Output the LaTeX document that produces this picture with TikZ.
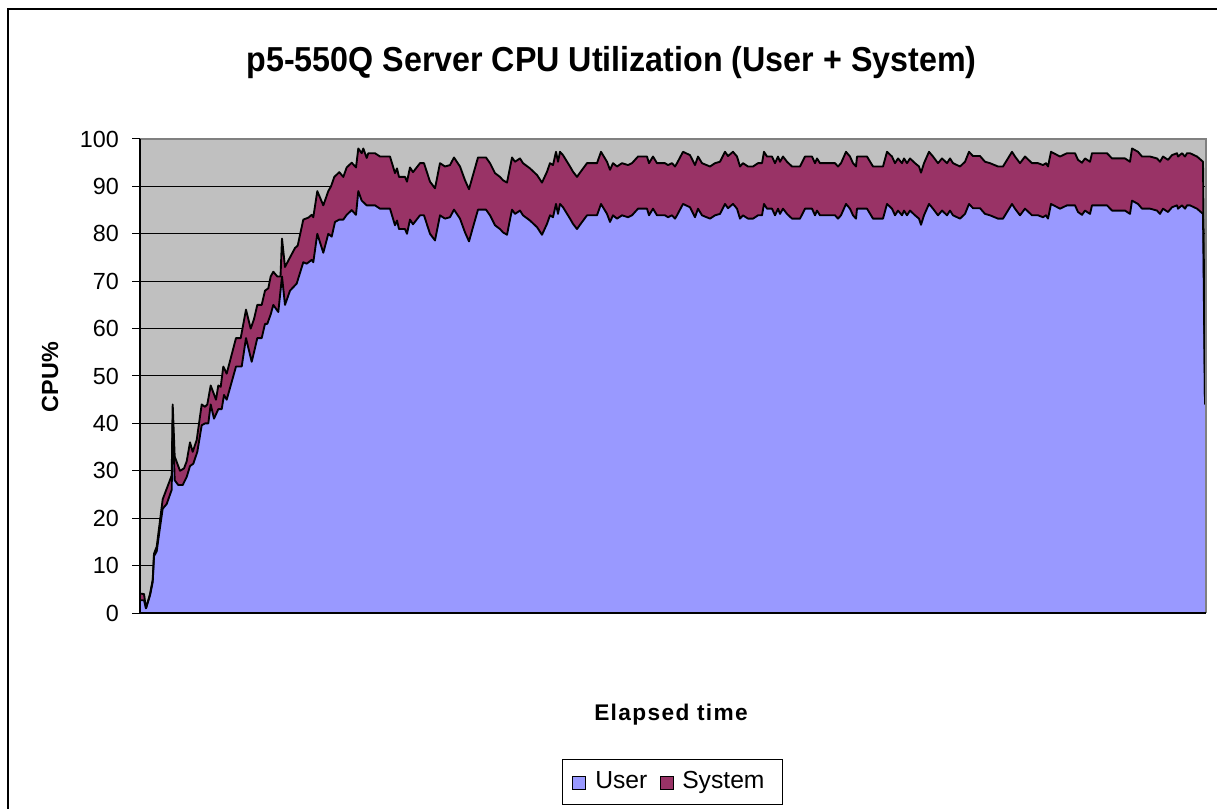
\documentclass[tikz,border=0pt]{standalone}
\usepackage{fontspec}
\setmainfont{Liberation Sans}
\usetikzlibrary{positioning}
\definecolor{userfill}{HTML}{9999FF}
\definecolor{sysfill}{HTML}{993366}
\definecolor{plotgray}{HTML}{C0C0C0}
\definecolor{framegray}{HTML}{808080}

% data: x in px, value in %
\def\risetotal{140/4.1, 144/4, 146/1, 150/4, 152.7/7, 154/12.5, 156.7/14, 162.7/24, 171.7/29, 172.7/44, 174.7/33, 180/30, 184/30.5, 186.7/32, 190/36, 192.7/34, 196.7/36.5, 201.7/44, 205/43.5, 207.3/44, 210.7/48, 216/45, 218.3/48, 220.7/47.7, 223.3/52, 226.7/50.5, 236/58, 240.7/58, 246/64, 250.7/60, 254/62, 257.3/65, 261.7/65, 265/68, 268.3/68.5, 270.7/71, 273.3/72, 277.3/71, 280.5/71, 282/79, 285/73, 288.7/74.5, 295/77, 297.7/77.5, 303.3/83, 308.3/83.4, 311.7/84, 313.3/83.5, 317.3/89, 323.3/86, 328.3/89, 331/90, 334.3/92, 339.3/93, 343.3/92, 346.7/94, 351.7/95, 356/94, 358.3/98, 361.7/97, 363.3/98, 366.7/96, 368.3/97, 375/97}
\def\riseuser{140/2.7, 144/2.7, 146/1, 150/3.7, 152.7/6.5, 154/12, 156.7/13, 159.3/17, 162.7/22, 166.7/23, 171.7/26, 172.7/41, 174.7/28, 178.3/27, 182.7/27, 186.7/28.7, 190/31, 193.3/31.5, 197.3/34, 201.7/39.6, 205/40, 208.3/40, 210.7/44, 214/41, 218.3/43, 221.7/43, 224/46, 226.7/45, 230.7/48, 236/52, 241.7/52, 246/58, 251.7/53, 254/55, 257.3/58, 261.7/58, 265/61, 267.3/61, 270.7/63, 273.3/65, 278.3/63.5, 282/71, 285/65, 290/68, 296.7/69.5, 303.3/74, 306.7/73.7, 311.7/74.5, 313.3/74, 317.3/80, 323.3/76, 328.3/80, 331.7/79.4, 335/82.5, 339.3/83, 343.3/83, 346.7/84, 351.7/85, 356/84, 358.3/89, 361.7/87, 366.7/86, 375/86}
\def\flattotal{380/96.3, 390/96.3, 395/92.8, 397/93.8, 399/92, 405/92, 407/91, 410/94, 413/93, 420/94.9, 424/94.9, 430/91, 435/89.6, 440/94.9, 445/94.2, 450/94.5, 454/96.1, 460/94.2, 465/91.3, 469/89.4, 473/92.4, 478/96.1, 486/96.1, 490/94.9, 495/92.8, 500/92, 503/91.3, 507/90.8, 512/96.1, 515/95.2, 520/95.9, 523/94.9, 530/93.8, 537/92.4, 542/90.8, 547/93.1, 550/94.9, 553/94.5, 556/97.3, 558/95.2, 560/97.3, 563/96.6, 570/94.2, 573/93.1, 577/92, 580/92.9, 587/94.9, 597/94.9, 601/97.3, 607/95.2, 610/93.5, 613/94.9, 617/94.2, 622/94.9, 628/94.5, 632/94.9, 638/96.3, 647/96.3, 649/94.9, 653/96.3, 657/94.9, 665/94.9, 668/94.5, 672/94.9, 675/94.2, 677/94.9, 683/97.3, 690/96.6, 695/94.5, 698/96.3, 702/94.9, 710/94.2, 715/94.9, 720/95.2, 725/97.3, 728/96.4, 733/97.3, 737/96.3, 740/94.2, 743/94.9, 748/94.2, 753/94.2, 758/94.9, 762/94.9, 764/97.3, 767/96.3, 772/96.3, 775/94.9, 778/96.3, 780/95.2, 783/96.3, 787/95.2, 792/94.2, 800/94.2, 805/96.3, 812/96.3, 815/94.9, 817/95.9, 820/94.9, 835/94.9, 838/94.2, 841/94.9, 846/97.3, 850/96.3, 853/94.9, 856/94.2, 857/96.3, 867/96.3, 873/94.2, 883/94.2, 887/97.3, 892/96.3, 895/94.9, 898/95.9, 902/94.9, 904/95.9, 907/94.9, 910/95.9, 915/94.9, 919/94.2, 921/92.9, 924/94.9, 929/97.3, 933/96.3, 938/94.9, 942/95.9, 947/94.9, 950/95.9, 953/94.9, 960/94.2, 965/95.2, 969/97.3, 973/96.4, 980/96.4, 985/95.2, 990/94.9, 998/94.2, 1003/94.2, 1012/97.3, 1015/96.3, 1020/94.9, 1025/96.3, 1032/94.9, 1038/94.9, 1043/94.5, 1046/94.9, 1048/94.2, 1051/97.3, 1060/96.3, 1067/97, 1075/97, 1078/95.6, 1082/95, 1085/95.9, 1090/95.2, 1092/97, 1107/97, 1112/95.9, 1125/95.9, 1130/95.2, 1132/98, 1138/97.3, 1142/96.3, 1150/96.3, 1157/95.9, 1160/95.2, 1163/96.3, 1168/95.6, 1172/96.6, 1177/97, 1178/96.3, 1182/97, 1185/96.3, 1187/97, 1190/97, 1197/96.3, 1203/95.2}

\begin{document}
\begin{tikzpicture}[x=0.75pt,y=0.75pt,every node/.style={inner sep=0pt}]
\useasboundingbox (0,0) rectangle (1217,808);
\clip (0,0) rectangle (1217,808);
\draw[line width=1.5pt] (8,-20) |- (1240,799);

% plot area and grid
\fill[plotgray] (140,195) rectangle (1206,669);
\foreach \v in {10,20,...,90}
  \draw[line width=0.75pt] (140,{195+4.74*\v}) -- (1206,{195+4.74*\v});
\foreach \v in {0,10,...,100}{
  \draw[line width=0.75pt] (132,{195+4.74*\v}) -- (140,{195+4.74*\v});
  \node[anchor=east,font=\fontsize{17.5}{20}\selectfont] (tick\v) at (119,{195+4.74*\v}) {\v};
}

% stacked areas
\begin{scope}[yshift=146.25pt,y=3.555pt]
\fill[sysfill] (140,0) \foreach \x/\v in \risetotal {-- (\x,\v)} \foreach \x/\v in \flattotal {-- (\x,\v)} -- (1205,44) -- (1205,0) -- cycle;
\fill[userfill] (140,0) \foreach \x/\v in \riseuser {-- (\x,\v)} \foreach \x/\v in \flattotal {-- (\x,\v-11)} -- (1205,44) -- (1205,0) -- cycle;
\draw[line width=1.4pt,line join=round] (140,4.1) \foreach \x/\v in \risetotal {-- (\x,\v)} \foreach \x/\v in \flattotal {-- (\x,\v)} -- (1205,44);
\draw[line width=1.4pt,line join=round] (140,2.7) \foreach \x/\v in \riseuser {-- (\x,\v)} \foreach \x/\v in \flattotal {-- (\x,\v-11)} -- (1205,44);
\end{scope}

% frame of the plot
\draw[framegray,line width=0.9pt] (140,669) -- (1206,669) -- (1206,195);
\draw[line width=1pt] (140,669) -- (140,195) -- (1206,195);

% texts
\node[anchor=base,xscale=0.93,transform shape,font=\bfseries\fontsize{26}{30}\selectfont] (title) at (611.5,736) {p5-550Q Server CPU Utilization (User + System)};
\node[rotate=90,font=\bfseries\fontsize{17.5}{20}\selectfont] (cpulabel) at (50,431) {CPU\%};
\node[anchor=base,font=\bfseries\fontsize{17}{20}\selectfont\addfontfeature{LetterSpace=6}] (timelabel) at (671,88) {Elapsed time};

% legend
\draw[line width=0.75pt] (562,4) rectangle (782,49);
\node[draw,line width=0.75pt,fill=userfill,minimum size=9.75pt] (keyuser) at (579,25.5) {};
\node[anchor=base west,font=\fontsize{18.5}{22}\selectfont] (txtuser) at (595,19.5) {User};
\node[draw,line width=0.75pt,fill=sysfill,minimum size=9.75pt] (keysys) at (666.5,25.5) {};
\node[anchor=base west,font=\fontsize{18.5}{22}\selectfont] (txtsys) at (682,19.5) {System};
\end{tikzpicture}
\end{document}
